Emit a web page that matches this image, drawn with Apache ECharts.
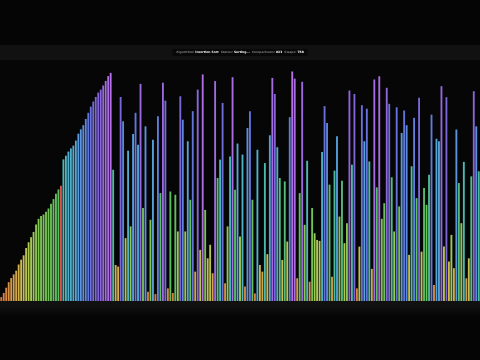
<!DOCTYPE html>
<html>
<head>
<meta charset="utf-8">
<script src="https://cdn.jsdelivr.net/npm/echarts@6/dist/echarts.min.js"></script>
<style>
html,body{margin:0;padding:0;background:#050505;}
#chart{width:480px;height:360px;}
</style>
</head>
<body>
<div id="chart"></div>
<script>
// ---- data ----
const sortedPart = [1.7,3.5,5.8,8.2,10.0,11.6,13.2,15.9,18.0,19.9,23.1,25.6,27.8,30.1,33.3,35.8,37.0,37.7,38.9,40.3,
  42.4,44.4,46.7,48.6,50.2,61.7,63.3,65.1,66.5,67.7,69.9,72.9,74.8,76.6,79.3,82.0,84.7,86.9,88.9,90.8,
  92.1,93.9,95.9,98.0,99.4];
const unsortedA = [57.2,15.7,15.0,88.9,78.3,27.4,65.5,32.5,72.8,82.0,68.1,94.6,40.5,76.1,4.0,35.4,
  70.3,3.0,80.5,47.0,95.1,87.3,5.5,47.7,3.5,46.3,30.3,89.2,79.0,30.3,69.6,44.1,
  82.7,12.8,92.1,22.3,98.7,39.7,18.6,24.5,12.1,95.8,53.6,61.6,86.3,7.7,32.5,63.0];
const unsortedB = [97.5,48.5,68.6,28.1,63.8,6.3,75.4,82.7,44.1,3.3,65.9,15.7,12.8,60.1,20.4,72.2,
  97.2,90.2,67.0,53.6,17.9,52.1,25.9,80.1,100,96.9,9.9,47.0,95.5,33.2,61.1,8.4,
  40.5,29.5,26.6,26.2,64.9,84.9,77.6,50.7,10.6,56.8,71.8,36.8,52.4,25.2,33.9,91.7,59.4,90.2,5.5];
const unsortedC = [23.7,85.3,69.6,83.8,60.8,14.0,96.5,49.5,97.9,35.8,42.6,92.9,85.9,53.9,30.3,84.4,
  41.2,73.2,83.0,76.6,20.1,58.7,79.8,44.8,88.5,21.5,49.2,41.9,55.0,81.2,7.0,70.7,
  69.6,93.6,23.7,88.8,17.2,28.8,14.3,74.7,51.4,33.9,60.6,9.9,18.6,54.3,91.4,76.1,56.5];
const activeIndex = 24;
const labels = ['Algorithm:', 'Insertion Sort', 'Status:', 'Sorting...', 'Comparisons:', '823', 'Swaps:', '768'];

// ---- style helpers ----
const stops = [[0,'#d9703f'],[10,'#d79a4a'],[18,'#cdbb50'],[28,'#a5cb55'],[38,'#78c455'],[48,'#5cbf62'],
  [56,'#50bc98'],[62,'#4cb8bf'],[72,'#58a0de'],[82,'#6078dd'],[90,'#8063da'],[100,'#b870e6']];
function hex2rgb(h){return [parseInt(h.slice(1,3),16),parseInt(h.slice(3,5),16),parseInt(h.slice(5,7),16)];}
function colorFor(v){
  for(let i=1;i<stops.length;i++){
    if(v<=stops[i][0]){
      const a=stops[i-1],b=stops[i];const t=(v-a[0])/(b[0]-a[0]);
      const ca=hex2rgb(a[1]),cb=hex2rgb(b[1]);
      return 'rgb('+ca.map((c,k)=>Math.round(c+(cb[k]-c)*t)).join(',')+')';
    }
  }
  return stops[stops.length-1][1];
}

const values = sortedPart.concat(unsortedA, unsortedB, unsortedC);
const cats = values.map((_, i) => i);
const data = values.map((v, i) => ({
  value: v,
  itemStyle: { color: i === activeIndex ? '#e0524e' : colorFor(v) }
}));

const chart = echarts.init(document.getElementById('chart'), null, {renderer:'canvas'});
chart.setOption({
  backgroundColor: '#050505',
  animation: false,
  title: {
    left: 'center', top: 49,
    text: '{l|' + labels[0] + '} {v|' + labels[1] + '}  {l|' + labels[2] + '} {v|' + labels[3] + '}  {l|' + labels[4] + '} {v|' + labels[5] + '}  {l|' + labels[6] + '} {v|' + labels[7] + '}',
    backgroundColor: '#080808', borderRadius: 2, padding: [2, 4],
    textStyle: {
      fontSize: 3, fontFamily: 'DejaVu Sans',
      rich: {
        l: { color: '#7a7a7a', fontSize: 3, fontFamily: 'DejaVu Sans' },
        v: { color: '#f0f0f0', fontSize: 3, fontWeight: 'bold', fontFamily: 'DejaVu Sans' }
      }
    }
  },
  graphic: [
    { type: 'rect', shape: { x: 0, y: 45, width: 480, height: 270 }, style: { fill: '#111111' }, z: -10, silent: true },
    { type: 'rect', shape: { x: 0, y: 305, width: 480, height: 12 },
      style: { fill: new echarts.graphic.LinearGradient(0,0,0,1,[{offset:0,color:'#111111'},{offset:1,color:'#050505'}]) }, z: -9, silent: true }
  ],
  grid: { left: 0, right: 0, top: 60, bottom: 59, show: true, backgroundColor: '#060606', borderWidth: 0 },
  xAxis: { type: 'category', data: cats, show: false },
  yAxis: { type: 'value', min: 0, max: 105, show: false },
  series: [{
    type: 'bar', data: data, barCategoryGap: '25%'
  }]
});
</script>
</body>
</html>
